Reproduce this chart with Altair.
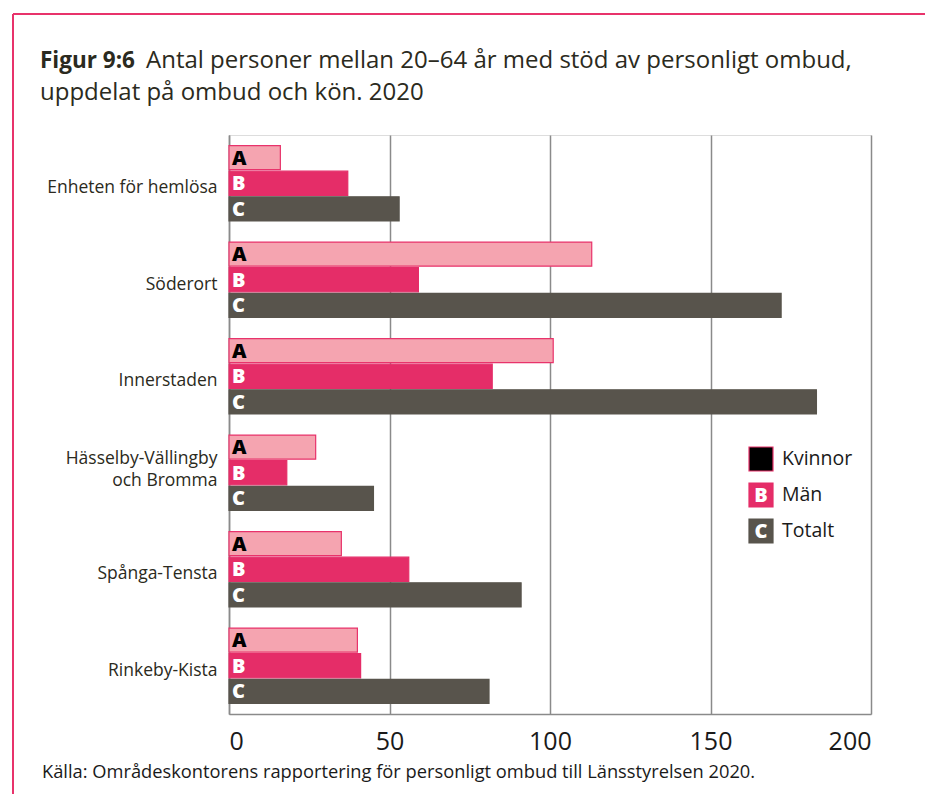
import altair as alt
import pandas as pd

regions = ["Enheten för hemlösa", "Söderort", "Innerstaden",
           "Hässelby-Vällingby|och Bromma", "Spånga-Tensta", "Rinkeby-Kista"]
series = ["A", "B", "C"]
kvinnor = [16, 113, 101, 27, 35, 40]
man = [37, 59, 82, 18, 56, 41]
totalt = [53, 172, 183, 45, 91, 81]
x_ticks = [0, 50, 100, 150, 200]
legend_labels = ["Kvinnor", "Män", "Totalt"]
legend_letters = ["", "B", "C"]

FONT = "Open Sans"
TXT = "#2b2a20"

rows = []
for i, r in enumerate(regions):
    for s, vals in zip(series, [kvinnor, man, totalt]):
        rows.append({"region": r, "series": s, "value": vals[i]})
df = pd.DataFrame(rows)

fill_scale = alt.Scale(domain=series, range=["#f5a4b0", "#e52d68", "#58544c"])
stroke_scale = alt.Scale(domain=series, range=["#e8336b", "#e52d68", "#58544c"])
letter_scale = alt.Scale(domain=series, range=["#000000", "#ffffff", "#ffffff"])

y_enc = alt.Y("region:N", sort=regions,
              scale=alt.Scale(paddingInner=0.22, paddingOuter=0.11),
              axis=alt.Axis(title=None, labelExpr="split(datum.label, '|')",
                            labelFont=FONT, labelFontSize=17.5, labelColor=TXT,
                            labelPadding=12, ticks=False, domain=True,
                            domainColor="#8a8a8a", domainWidth=1.5,
                            labelLineHeight=22,
                            labelOffset={"condition": {"test": "indexof(datum.value, '|') >= 0",
                                                       "value": -14},
                                         "value": 5}))
yoff = alt.YOffset("series:N", sort=series,
                   scale=alt.Scale(paddingInner=0.06, paddingOuter=0))

x_enc = alt.X("value:Q", scale=alt.Scale(domain=[0, 200], nice=False),
              axis=alt.Axis(title=None, values=x_ticks, grid=True,
                            gridColor="#8a8a8a", gridWidth=1.5,
                            domainColor="#8a8a8a", domainWidth=1.5,
                            ticks=False, labelFont=FONT, labelFontSize=25,
                            labelColor="#1a1a1a", labelPadding=15))

bars = alt.Chart(df).mark_bar(strokeWidth=1.2).encode(
    x=x_enc, y=y_enc, yOffset=yoff,
    fill=alt.Fill("series:N", scale=fill_scale, legend=None),
    stroke=alt.Stroke("series:N", scale=stroke_scale, legend=None),
)

letters = alt.Chart(df).mark_text(
    align="left", baseline="middle", dx=3, dy=1, font=FONT, fontWeight=800, fontSize=20
).encode(
    x=alt.datum(0), y=alt.Y("region:N", sort=regions), yOffset=yoff,
    text="series:N",
    color=alt.Color("series:N", scale=letter_scale, legend=None),
)

# Title
title_df = pd.DataFrame({"t": [0]})
t_bold = alt.Chart(title_df).mark_text(
    align="left", baseline="middle", font=FONT, fontWeight="bold", fontSize=22.5, color=TXT
).encode(x=alt.value(-189), y=alt.value(-74), text=alt.value("Figur 9:6"))
t_rest1 = alt.Chart(title_df).mark_text(
    align="left", baseline="middle", font=FONT, fontSize=24, color=TXT
).encode(x=alt.value(-83), y=alt.value(-74),
         text=alt.value("Antal personer mellan 20–64 år med stöd av personligt ombud,"))
t_rest2 = alt.Chart(title_df).mark_text(
    align="left", baseline="middle", font=FONT, fontSize=24, color=TXT
).encode(x=alt.value(-189), y=alt.value(-42),
         text=alt.value("uppdelat på ombud och kön. 2020"))
source = alt.Chart(title_df).mark_text(
    align="left", baseline="middle", font=FONT, fontSize=18.3, color="#1a1a1a"
).encode(x=alt.value(-187), y=alt.value(638),
         text=alt.value("Källa: Områdeskontorens rapportering för personligt ombud till Länsstyrelsen 2020."))

# Frame lines
frame_top = alt.Chart(title_df).mark_rule(color="#e8336b", strokeWidth=2).encode(
    x=alt.value(-216), x2=alt.value(720), y=alt.value(-121))
frame_left = alt.Chart(title_df).mark_rule(color="#e8336b", strokeWidth=2).encode(
    x=alt.value(-216), y=alt.value(-121), y2=alt.value(680))

# Legend
leg_df = pd.DataFrame({"label": legend_labels, "letter": legend_letters, "series": series})
leg_y = alt.Y("label:N", sort=legend_labels,
              scale=alt.Scale(type="point", range=[324, 396], padding=0), axis=None)
leg_fill = alt.Scale(domain=series, range=["#000000", "#e52d68", "#58544c"])
leg_stroke = alt.Scale(domain=series, range=["#e8336b", "#e52d68", "#58544c"])
leg_sq = alt.Chart(leg_df).mark_square(size=576, opacity=1, strokeWidth=1.2).encode(
    x=alt.value(532), y=leg_y,
    fill=alt.Fill("series:N", scale=leg_fill, legend=None),
    stroke=alt.Stroke("series:N", scale=leg_stroke, legend=None),
)
leg_letter = alt.Chart(leg_df).mark_text(
    align="center", baseline="middle", dy=1, font=FONT, fontWeight=800, fontSize=20, color="white"
).encode(x=alt.value(532), y=leg_y, text="letter:N")
leg_text = alt.Chart(leg_df).mark_text(
    align="left", baseline="middle", font=FONT, fontSize=19.5, color="#1a1a1a"
).encode(x=alt.value(553), y=leg_y, text="label:N")

main = alt.layer(bars, letters)
legend = alt.layer(leg_sq, leg_letter, leg_text)

chart = alt.layer(main, legend, t_bold, t_rest1, t_rest2, source, frame_top, frame_left).resolve_scale(
    y="independent", fill="independent", stroke="independent", color="independent"
).properties(
    width=642, height=579,
    autosize=alt.AutoSizeParams(type="none"),
    padding={"left": 221, "top": 127, "right": 54, "bottom": 80},
).configure_view(stroke=None).configure(background="white")

chart.save("out.html", embed_options={"renderer": "svg", "actions": False})
